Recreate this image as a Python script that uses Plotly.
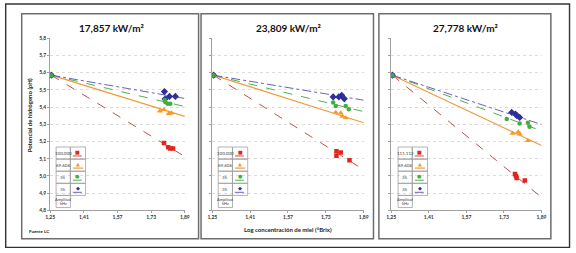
import plotly.graph_objects as go

W, H = 576, 253

# ---------------- data ----------------
panel_titles = ["17,857 kW/m²", "23,809 kW/m²", "27,778 kW/m²"]
x_tickvals = [1.25, 1.41, 1.57, 1.73, 1.89]
x_ticktext = ["1,25", "1,41", "1,57", "1,73", "1,89"]
y_tickvals = [4.8, 4.9, 5.0, 5.1, 5.2, 5.3, 5.4, 5.5, 5.6, 5.7, 5.8]
y_ticktext = ["4,8", "4,9", "5,0", "5,1", "5,2", "5,3", "5,4", "5,5", "5,6", "5,7", "5,8"]

x_start = 1.255
y_start = 5.585
x_trend_end = 1.89

# panel 1 (17,857 kW/m2)
x_red_1 = [1.791, 1.811, 1.821, 1.834]
y_red_1 = [5.192, 5.167, 5.160, 5.160]
x_orange_1 = [1.772, 1.791, 1.814, 1.826]
y_orange_1 = [5.377, 5.385, 5.362, 5.365]
x_green_1 = [1.795, 1.798, 1.809, 1.821]
y_green_1 = [5.441, 5.428, 5.419, 5.419]
x_blue_1 = [1.793, 1.817, 1.845, 1.796]
y_blue_1 = [5.490, 5.462, 5.462, 5.447]
trend_end_1 = [5.113, 5.346, 5.403, 5.450]   # red, orange, green, blue

# panel 2 (23,809 kW/m2)
x_red_2 = [1.775, 1.775, 1.793, 1.830]
y_red_2 = [5.143, 5.117, 5.136, 5.092]
x_orange_2 = [1.772, 1.793, 1.800, 1.814]
y_orange_2 = [5.369, 5.365, 5.346, 5.337]
x_green_2 = [1.761, 1.772, 1.814, 1.827]
y_green_2 = [5.427, 5.406, 5.406, 5.388]
x_blue_2 = [1.761, 1.785, 1.797, 1.808]
y_blue_2 = [5.459, 5.459, 5.468, 5.448]
trend_end_2 = [5.036, 5.309, 5.374, 5.440]

# panel 3 (27,778 kW/m2)
x_red_3 = [1.777, 1.781, 1.784, 1.819]
y_red_3 = [5.012, 5.000, 4.989, 4.974]
x_orange_3 = [1.767, 1.791, 1.797, 1.832]
y_orange_3 = [5.247, 5.256, 5.243, 5.205]
x_green_3 = [1.742, 1.797, 1.832, 1.839]
y_green_3 = [5.331, 5.305, 5.309, 5.286]
x_blue_3 = [1.763, 1.779, 1.785, 1.797]
y_blue_3 = [5.369, 5.360, 5.350, 5.340]
trend_end_3 = [4.876, 5.177, 5.262, 5.299]

legend_labels_1 = ["100,000", "69,606", "35", "35"]
legend_labels_2 = ["100,000", "69,606", "35", "35"]
legend_labels_3 = ["111,112", "69,606", "35", "35"]
legend_last_row = ["Amplitud", "kHz"]

y_axis_title = "Potencial de hidrógeno (pH)"
x_axis_title = "Log concentración de miel (°Brix)"
source_note = "Fuente LC"

# ---------------- styles ----------------
series_style = [
    dict(name="red", mcolor="#E3241C", symbol="square", msize=4.5, lcolor="#C0504D", dash="dash", lw=1.0, glyph="■"),
    dict(name="orange", mcolor="#F59A2E", symbol="triangle-up", msize=5.5, lcolor="#F39A3C", dash="solid", lw=1.2, glyph="▲"),
    dict(name="green", mcolor="#3FAF3F", symbol="circle", msize=4.5, lcolor="#4CB050", dash="dash", lw=1.0, glyph="●"),
    dict(name="blue", mcolor="#2D2F9A", symbol="diamond", msize=5.5, lcolor="#6B62B8", dash="dashdot", lw=1.0, glyph="◆"),
]

panels = [
    dict(xs=[x_red_1, x_orange_1, x_green_1, x_blue_1], ys=[y_red_1, y_orange_1, y_green_1, y_blue_1],
         trend=trend_end_1, labels=legend_labels_1, px=(46, 183), frame=(17, 197), table_left=52),
    dict(xs=[x_red_2, x_orange_2, x_green_2, x_blue_2], ys=[y_red_2, y_orange_2, y_green_2, y_blue_2],
         trend=trend_end_2, labels=legend_labels_2, px=(211, 365), frame=(199.5, 375), table_left=217),
    dict(xs=[x_red_3, x_orange_3, x_green_3, x_blue_3], ys=[y_red_3, y_orange_3, y_green_3, y_blue_3],
         trend=trend_end_3, labels=legend_labels_3, px=(393, 546), frame=(380.5, 555.5), table_left=400),
]

PLOT_TOP, PLOT_BOTTOM = 36, 212.5


def fx(p):
    return p / W


def fy(p):
    return 1 - p / H


FONT = "Lato"
fig = go.Figure()
shapes = []
annotations = []

draw_order = [0, 1, 3, 2]  # green drawn last so start point shows green

for i, pan in enumerate(panels):
    n = "" if i == 0 else str(i + 1)
    xa, ya = "x" + n, "y" + n
    for k in range(4):
        st = series_style[k]
        fig.add_trace(go.Scatter(
            x=[x_start, x_trend_end], y=[y_start, pan["trend"][k]], mode="lines",
            line=dict(color=st["lcolor"], width=st["lw"], dash=st["dash"]),
            xaxis=xa, yaxis=ya, showlegend=False, hoverinfo="skip"))
    for k in draw_order:
        st = series_style[k]
        fig.add_trace(go.Scatter(
            x=[x_start] + pan["xs"][k], y=[y_start] + pan["ys"][k], mode="markers",
            marker=dict(color=st["mcolor"], symbol=st["symbol"], size=st["msize"], line=dict(width=0)),
            xaxis=xa, yaxis=ya, showlegend=False, name=st["name"]))

    x0, x1 = pan["px"]
    axis_common = dict(showline=True, linecolor="#a0a0a0", linewidth=1, ticks="outside", ticklen=2,
                       tickcolor="#a0a0a0", zeroline=False, fixedrange=True)
    fig.update_layout(**{
        "xaxis" + n: dict(domain=[fx(x0), fx(x1)], range=[1.25, 1.89], tickvals=x_tickvals,
                          ticktext=x_ticktext, showgrid=False, anchor=ya,
                          tickfont=dict(family=FONT, size=5, color="#333", weight="bold"), **axis_common),
        "yaxis" + n: dict(domain=[fy(PLOT_BOTTOM), fy(PLOT_TOP)], range=[4.8, 5.8], tickvals=y_tickvals,
                          ticktext=y_ticktext, showticklabels=(i == 0), anchor=xa,
                          showgrid=True, gridcolor="#dcdcdc", griddash="dot", gridwidth=1,
                          tickfont=dict(family=FONT, size=5, color="#333", weight="bold"), **axis_common),
    })

    f0, f1 = pan["frame"]
    shapes.append(dict(type="rect", xref="paper", yref="paper", x0=fx(f0), x1=fx(f1), y0=fy(241.5), y1=fy(11),
                       line=dict(color="#6d6d6d", width=1.5), layer="below"))
    annotations.append(dict(xref="paper", yref="paper", x=fx((f0 + f1) / 2 + 1), y=fy(25.5), text=panel_titles[i],
                            showarrow=False, xanchor="center", yanchor="middle",
                            font=dict(family=FONT, size=10, color="#111", weight="bold")))

    tl = pan["table_left"]
    top = 147.5
    rh = 12.4
    cw1, cw2 = 14.5, 15.5
    for r in range(5):
        yt = top + r * rh
        shapes.append(dict(type="rect", xref="paper", yref="paper", x0=fx(tl), x1=fx(tl + cw1),
                           y0=fy(yt + rh), y1=fy(yt), line=dict(color="#a0a0a0", width=0.8)))
        if r < 4:
            annotations.append(dict(xref="paper", yref="paper", x=fx(tl + cw1 / 2), y=fy(yt + rh / 2),
                                    text=pan["labels"][r], showarrow=False, xanchor="center", yanchor="middle",
                                    font=dict(family=FONT, size=4.5, color="#444")))
            st = series_style[r]
            shapes.append(dict(type="rect", xref="paper", yref="paper", x0=fx(tl + cw1), x1=fx(tl + cw1 + cw2),
                               y0=fy(yt + rh), y1=fy(yt), line=dict(color="#a0a0a0", width=0.8)))
            annotations.append(dict(xref="paper", yref="paper", x=fx(tl + cw1 + cw2 / 2), y=fy(yt + rh / 2 - 1.5),
                                    text=st["glyph"], showarrow=False, xanchor="center", yanchor="middle",
                                    font=dict(family="DejaVu Sans", size=5, color=st["mcolor"])))
            shapes.append(dict(type="line", xref="paper", yref="paper", x0=fx(tl + cw1 + 2.5),
                               x1=fx(tl + cw1 + cw2 - 2.5), y0=fy(yt + rh / 2 + 3), y1=fy(yt + rh / 2 + 3),
                               line=dict(color=st["lcolor"], width=st["lw"], dash=st["dash"])))
        else:
            for j, txt in enumerate(legend_last_row):
                annotations.append(dict(xref="paper", yref="paper", x=fx(tl + cw1 / 2),
                                        y=fy(yt + rh / 2 - 2.2 + 4.4 * j),
                                        text=txt, showarrow=False, xanchor="center", yanchor="middle",
                                        font=dict(family=FONT, size=4, color="#444")))

shapes.append(dict(type="rect", xref="paper", yref="paper", x0=fx(0.7), x1=fx(574.5), y0=fy(250.3), y1=fy(1),
                   line=dict(color="#333", width=1.4), layer="below"))

annotations.append(dict(xref="paper", yref="paper", x=fx(24.5), y=fy(115), text=y_axis_title, textangle=-90,
                        showarrow=False, xanchor="center", yanchor="middle",
                        font=dict(family=FONT, size=6, color="#222", weight="bold")))
annotations.append(dict(xref="paper", yref="paper", x=fx(288), y=fy(232), text=x_axis_title,
                        showarrow=False, xanchor="center", yanchor="middle",
                        font=dict(family=FONT, size=6, color="#222", weight="bold")))
annotations.append(dict(xref="paper", yref="paper", x=fx(22), y=fy(234), text=source_note,
                        showarrow=False, xanchor="left", yanchor="middle",
                        font=dict(family=FONT, size=4.5, color="#222", weight="bold")))

fig.update_layout(width=W, height=H, margin=dict(l=0, r=0, t=0, b=0),
                  paper_bgcolor="white", plot_bgcolor="white", showlegend=False,
                  shapes=shapes, annotations=annotations)

fig.write_html("out.html", config={"displayModeBar": False},
               post_script="document.body.style.margin='0';document.body.style.overflow='hidden';")
